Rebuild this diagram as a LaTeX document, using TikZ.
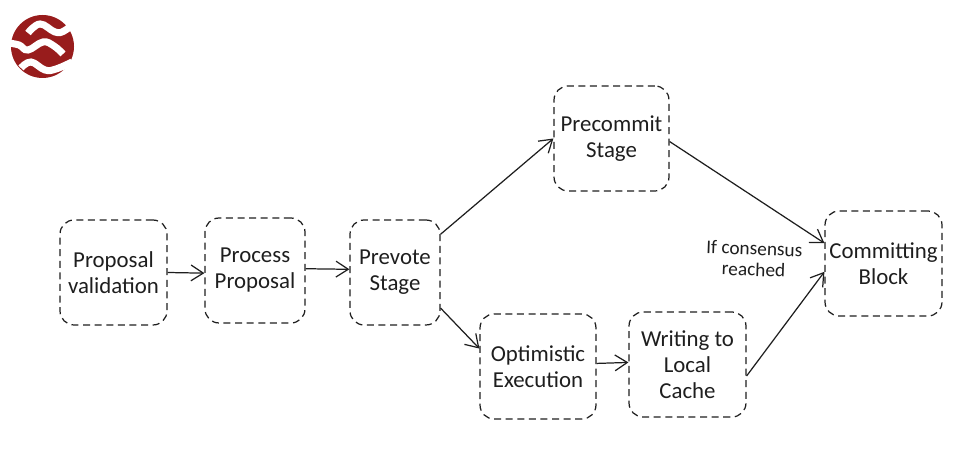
\documentclass[tikz,border=0pt]{standalone}
\usepackage{fontspec}
\setmainfont{Carlito}
\usetikzlibrary{arrows.meta}
\definecolor{inkcol}{HTML}{1E1E1E}
\definecolor{logocol}{HTML}{981C1C}
\tikzset{
  stagebox/.style={draw=inkcol, line width=0.7pt, dash pattern=on 4pt off 2.6pt, rounded corners=8pt,
    align=center, inner sep=0pt, text=inkcol, font=\fontsize{13}{14.8}\selectfont},
  flow/.style={draw=inkcol, line width=0.7pt, -{Straight Barb[length=7pt,width=9pt]}},
  wave/.style={draw=white, line width=4pt}
}
\begin{document}
\begin{tikzpicture}[x=0.02cm,y=-0.02cm]
    \useasboundingbox (0,0) rectangle (980,475);
    % logo
    \fill[logocol] (42.5,46.5) circle (31.5);
    \draw[wave] plot[smooth,tension=0.7] coordinates {(28,33) (40,24) (55,32) (64,31) (74,23)};
    \draw[wave] plot[smooth,tension=0.7] coordinates {(8,43) (19,45) (28,50) (43,42) (54,46) (63,54)};
    \draw[wave] plot[smooth,tension=0.7] coordinates {(21,68) (31,62) (45,70) (56,69) (72,62)};
    % stages
    \node[stagebox,minimum width=2.14cm,minimum height=2.1cm] (validation) at (113.5,272.5) {Proposal\\validation};
    \node[stagebox,minimum width=2cm,minimum height=2.1cm] (process) at (255,270.5) {Process\\Proposal};
    \node[stagebox,minimum width=1.8cm,minimum height=2.1cm] (prevote) at (395,272.5) {Prevote\\Stage};
    \node[stagebox,minimum width=2.3cm,minimum height=2.1cm] (precommit) at (611.5,138.5) {Precommit\\Stage};
    \node[stagebox,minimum width=2.32cm,minimum height=2.1cm] (optimistic) at (538,366.5) {Optimistic\\Execution};
    \node[stagebox,minimum width=2.34cm,minimum height=2.1cm] (cache) at (687.5,364.5) {Writing to\\Local\\Cache};
    \node[stagebox,minimum width=2.34cm,minimum height=2.1cm] (block) at (883.5,263.5) {Committing\\Block};
    % label on the upper path
    \node[align=center,text=inkcol,rotate=-2,font=\fontsize{11}{12}\selectfont] (consensus) at (754,259) {If consensus\\reached};
    % arrows
    \draw[flow] (validation.-0.5) -- (process.183);
    \draw[flow] (process.2) -- (prevote.176);
    \draw[flow] (prevote.40) -- (precommit.west);
    \draw[flow] (prevote.-38) -- (optimistic.163);
    \draw[flow] (optimistic.3.4) -- (cache.178.5);
    \draw[flow] (cache.-11) -- (block.188);
    \draw[flow] (precommit.-3) -- (block.161);
\end{tikzpicture}
\end{document}
